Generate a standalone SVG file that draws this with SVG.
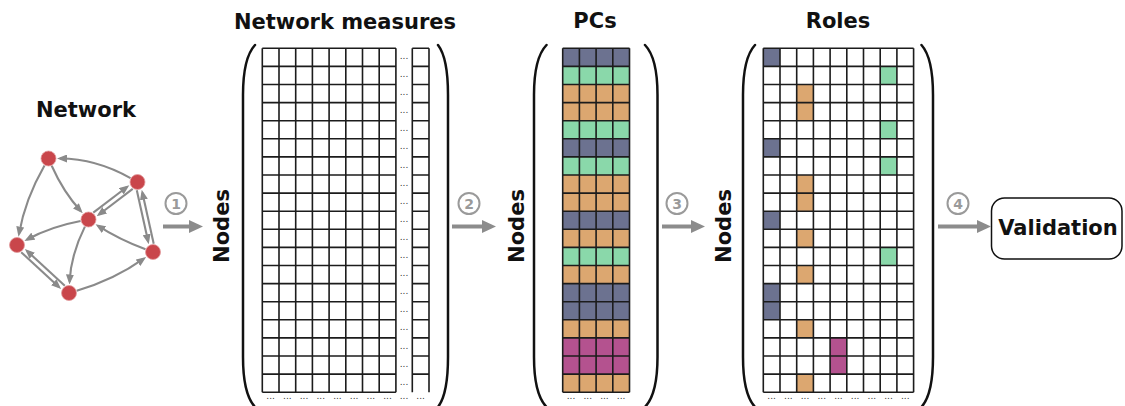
<svg xmlns="http://www.w3.org/2000/svg" width="1125" height="406" viewBox="0 0 1125 406">
<style>
.t{font-family:"DejaVu Sans","Liberation Sans",sans-serif;font-weight:bold;font-size:21px;fill:#111;text-anchor:middle}
.grid{fill:none;stroke:#1c1c1c;stroke-width:1.6}
.dots{font-family:"DejaVu Sans","Liberation Sans",sans-serif;font-size:9px;fill:#333;text-anchor:middle}
.edge{fill:none;stroke:#8a8a8a;stroke-width:2.1;marker-end:url(#ah)}
.node{fill:#c9464b;stroke:#e29a9d;stroke-width:0.8}
.paren{fill:none;stroke:#111;stroke-width:2.5;stroke-linecap:round}
.big{stroke:#8c8c8c;stroke-width:4;marker-end:url(#bh)}
.numc{fill:none;stroke:#9a9a9a;stroke-width:2}
.numt{font-family:"DejaVu Sans","Liberation Sans",sans-serif;font-weight:bold;font-size:14px;fill:#9a9a9a;text-anchor:middle}
.gy{fill:#6c7290}.gr{fill:#8ad8aa}.or{fill:#dca770}.mg{fill:#b4528f}
</style>
<defs>
<marker id="ah" markerUnits="userSpaceOnUse" markerWidth="10" markerHeight="8" refX="7" refY="4" orient="auto"><path d="M0,0L10,4L0,8z" fill="#8a8a8a"/></marker>
<marker id="bh" markerUnits="userSpaceOnUse" markerWidth="14" markerHeight="13" refX="1" refY="6.5" orient="auto"><path d="M0,0L14,6.5L0,13z" fill="#8c8c8c"/></marker>
</defs>
<rect width="1125" height="406" fill="#fff"/>

<g id="network">
<text class="t" x="86" y="117">Network</text>
<g id="net-edges">
<path class="edge" d="M130.5,178.1Q96.1,158.6 60,158.5"/>
<path class="edge" d="M44.5,165.4Q25.2,199 19,233.7"/>
<path class="edge" d="M51.7,165.8Q63.5,192.3 80.7,211"/>
<path class="edge" d="M93.3,212.6L126.9,187"/>
<path class="edge" d="M132.7,188.9L99.1,214.5"/>
<path class="edge" d="M153.7,243.7L142.4,192.7"/>
<path class="edge" d="M136.8,190.3L148.1,241.3"/>
<path class="edge" d="M145.5,249.2Q119,239.3 98.1,225.8"/>
<path class="edge" d="M80.6,221Q50.7,226.6 27.1,239.5"/>
<path class="edge" d="M84.9,226.6Q71,254.2 69.6,281.5"/>
<path class="edge" d="M21.2,252.2L58.9,287"/>
<path class="edge" d="M64.8,285.8L27.1,251"/>
<path class="edge" d="M76.7,290.8Q114.5,279.7 143.7,258.7"/>
</g>
<g id="n-a"><circle class="node" cx="48.5" cy="158.5" r="7.5"/></g>
<g id="n-b"><circle class="node" cx="137.5" cy="182" r="7.5"/></g>
<g id="n-c"><circle class="node" cx="88.5" cy="219.5" r="7.5"/></g>
<g id="n-d"><circle class="node" cx="17" cy="245" r="7.5"/></g>
<g id="n-e"><circle class="node" cx="153" cy="252" r="7.5"/></g>
<g id="n-f"><circle class="node" cx="69" cy="293" r="7.5"/></g>
</g>

<g id="measures">
<text class="t" x="345" y="29">Network measures</text>
<text class="t" transform="translate(228.5,226) rotate(-90)">Nodes</text>
<path class="paren" d="M255,45Q243,58 243,95L243,357Q243,394 255,407"/>
<path class="paren" d="M438,45Q448,58 448,95L448,357Q448,394 438,407"/>
<rect x="262.3" y="48.3" width="133.6" height="343.9" fill="#fff"/>
<rect x="412.3" y="48.3" width="16.7" height="343.9" fill="#fff"/>
<path class="grid" d="M262.3,48.3h133.6m-133.6,18.1h133.6m-133.6,18.1h133.6m-133.6,18.1h133.6m-133.6,18.1h133.6m-133.6,18.1h133.6m-133.6,18.1h133.6m-133.6,18.1h133.6m-133.6,18.1h133.6m-133.6,18.1h133.6m-133.6,18.1h133.6m-133.6,18.1h133.6m-133.6,18.1h133.6m-133.6,18.1h133.6m-133.6,18.1h133.6m-133.6,18.1h133.6m-133.6,18.1h133.6m-133.6,18.1h133.6m-133.6,18.1h133.6m-133.6,18.1h133.6
M262.3,48.3v343.9m16.7,-343.9v343.9m16.7,-343.9v343.9m16.7,-343.9v343.9m16.7,-343.9v343.9m16.7,-343.9v343.9m16.7,-343.9v343.9m16.7,-343.9v343.9m16.7,-343.9v343.9
M412.3,48.3h16.7m-16.7,18.1h16.7m-16.7,18.1h16.7m-16.7,18.1h16.7m-16.7,18.1h16.7m-16.7,18.1h16.7m-16.7,18.1h16.7m-16.7,18.1h16.7m-16.7,18.1h16.7m-16.7,18.1h16.7m-16.7,18.1h16.7m-16.7,18.1h16.7m-16.7,18.1h16.7m-16.7,18.1h16.7m-16.7,18.1h16.7m-16.7,18.1h16.7m-16.7,18.1h16.7m-16.7,18.1h16.7m-16.7,18.1h16.7
M412.3,48.3v343.9m16.7,-343.9v343.9"/>
<text class="dots"><tspan x="404" y="58.9">...</tspan><tspan x="404" y="77">...</tspan><tspan x="404" y="95.1">...</tspan><tspan x="404" y="113.2">...</tspan><tspan x="404" y="131.3">...</tspan><tspan x="404" y="149.4">...</tspan><tspan x="404" y="167.5">...</tspan><tspan x="404" y="185.6">...</tspan><tspan x="404" y="203.7">...</tspan><tspan x="404" y="221.8">...</tspan><tspan x="404" y="239.9">...</tspan><tspan x="404" y="258">...</tspan><tspan x="404" y="276.1">...</tspan><tspan x="404" y="294.2">...</tspan><tspan x="404" y="312.3">...</tspan><tspan x="404" y="330.4">...</tspan><tspan x="404" y="348.5">...</tspan><tspan x="404" y="366.6">...</tspan><tspan x="404" y="384.7">...</tspan></text>
<text class="dots" y="399"><tspan x="270.65">...</tspan><tspan x="287.35">...</tspan><tspan x="304.05">...</tspan><tspan x="320.75">...</tspan><tspan x="337.45">...</tspan><tspan x="354.15">...</tspan><tspan x="370.85">...</tspan><tspan x="387.55">...</tspan><tspan x="404">...</tspan><tspan x="420.65">...</tspan></text>
</g>

<g id="pcs">
<text class="t" x="595" y="28">PCs</text>
<text class="t" transform="translate(524,226) rotate(-90)">Nodes</text>
<path class="paren" d="M546.5,45Q534,58 534,95L534,357Q534,394 546.5,407"/>
<path class="paren" d="M645,45Q657.5,58 657.5,95L657.5,357Q657.5,394 645,407"/>
<rect class="gy" x="562.7" y="48.3" width="66.8" height="18.1"/>
<rect class="gr" x="562.7" y="66.4" width="66.8" height="18.1"/>
<rect class="or" x="562.7" y="84.5" width="66.8" height="36.2"/>
<rect class="gr" x="562.7" y="120.7" width="66.8" height="18.1"/>
<rect class="gy" x="562.7" y="138.8" width="66.8" height="18.1"/>
<rect class="gr" x="562.7" y="156.9" width="66.8" height="18.1"/>
<rect class="or" x="562.7" y="175" width="66.8" height="36.2"/>
<rect class="gy" x="562.7" y="211.2" width="66.8" height="18.1"/>
<rect class="or" x="562.7" y="229.3" width="66.8" height="18.1"/>
<rect class="gr" x="562.7" y="247.4" width="66.8" height="18.1"/>
<rect class="or" x="562.7" y="265.5" width="66.8" height="18.1"/>
<rect class="gy" x="562.7" y="283.6" width="66.8" height="36.2"/>
<rect class="or" x="562.7" y="319.8" width="66.8" height="18.1"/>
<rect class="mg" x="562.7" y="337.9" width="66.8" height="36.2"/>
<rect class="or" x="562.7" y="374.1" width="66.8" height="18.1"/>
<path class="grid" d="M562.7,48.3h66.8m-66.8,18.1h66.8m-66.8,18.1h66.8m-66.8,18.1h66.8m-66.8,18.1h66.8m-66.8,18.1h66.8m-66.8,18.1h66.8m-66.8,18.1h66.8m-66.8,18.1h66.8m-66.8,18.1h66.8m-66.8,18.1h66.8m-66.8,18.1h66.8m-66.8,18.1h66.8m-66.8,18.1h66.8m-66.8,18.1h66.8m-66.8,18.1h66.8m-66.8,18.1h66.8m-66.8,18.1h66.8m-66.8,18.1h66.8m-66.8,18.1h66.8
M562.7,48.3v343.9m16.7,-343.9v343.9m16.7,-343.9v343.9m16.7,-343.9v343.9m16.7,-343.9v343.9"/>
<text class="dots" y="399"><tspan x="571.05">...</tspan><tspan x="587.75">...</tspan><tspan x="604.45">...</tspan><tspan x="621.15">...</tspan></text>
</g>

<g id="roles">
<text class="t" x="838" y="28">Roles</text>
<text class="t" transform="translate(731,226) rotate(-90)">Nodes</text>
<path class="paren" d="M755,45Q743,58 743,95L743,357Q743,394 755,407"/>
<path class="paren" d="M921.5,45Q933,58 933,95L933,357Q933,394 921.5,407"/>
<rect x="763.3" y="48.3" width="150.3" height="343.9" fill="#fff"/>
<rect class="gy" x="763.3" y="48.3" width="16.7" height="18.1"/>
<rect class="gy" x="763.3" y="138.8" width="16.7" height="18.1"/>
<rect class="gy" x="763.3" y="211.2" width="16.7" height="18.1"/>
<rect class="gy" x="763.3" y="283.6" width="16.7" height="36.2"/>
<rect class="gr" x="880.2" y="66.4" width="16.7" height="18.1"/>
<rect class="gr" x="880.2" y="120.7" width="16.7" height="18.1"/>
<rect class="gr" x="880.2" y="156.9" width="16.7" height="18.1"/>
<rect class="gr" x="880.2" y="247.4" width="16.7" height="18.1"/>
<rect class="or" x="796.7" y="84.5" width="16.7" height="36.2"/>
<rect class="or" x="796.7" y="175" width="16.7" height="36.2"/>
<rect class="or" x="796.7" y="229.3" width="16.7" height="18.1"/>
<rect class="or" x="796.7" y="265.5" width="16.7" height="18.1"/>
<rect class="or" x="796.7" y="319.8" width="16.7" height="18.1"/>
<rect class="or" x="796.7" y="374.1" width="16.7" height="18.1"/>
<rect class="mg" x="830.1" y="337.9" width="16.7" height="36.2"/>
<path class="grid" d="M763.3,48.3h150.3m-150.3,18.1h150.3m-150.3,18.1h150.3m-150.3,18.1h150.3m-150.3,18.1h150.3m-150.3,18.1h150.3m-150.3,18.1h150.3m-150.3,18.1h150.3m-150.3,18.1h150.3m-150.3,18.1h150.3m-150.3,18.1h150.3m-150.3,18.1h150.3m-150.3,18.1h150.3m-150.3,18.1h150.3m-150.3,18.1h150.3m-150.3,18.1h150.3m-150.3,18.1h150.3m-150.3,18.1h150.3m-150.3,18.1h150.3m-150.3,18.1h150.3
M763.3,48.3v343.9m16.7,-343.9v343.9m16.7,-343.9v343.9m16.7,-343.9v343.9m16.7,-343.9v343.9m16.7,-343.9v343.9m16.7,-343.9v343.9m16.7,-343.9v343.9m16.7,-343.9v343.9m16.7,-343.9v343.9"/>
<text class="dots" y="399"><tspan x="771.65">...</tspan><tspan x="788.35">...</tspan><tspan x="805.05">...</tspan><tspan x="821.75">...</tspan><tspan x="838.45">...</tspan><tspan x="855.15">...</tspan><tspan x="871.85">...</tspan><tspan x="888.55">...</tspan><tspan x="905.25">...</tspan></text>
</g>

<g id="validation">
<rect x="991.5" y="198" width="130.5" height="61" rx="13" fill="#fff" stroke="#111" stroke-width="1.5"/>
<text class="t" x="1058" y="235">Validation</text>
</g>

<g id="connectors">
<line class="big" x1="163" y1="226.5" x2="190" y2="226.5"/>
<line class="big" x1="452" y1="226.5" x2="483" y2="226.5"/>
<line class="big" x1="662" y1="226.5" x2="692" y2="226.5"/>
<line class="big" x1="938" y1="226.5" x2="978" y2="226.5"/>
<circle class="numc" cx="176" cy="203.5" r="10.5"/><text class="numt" x="176" y="208.5">1</text>
<circle class="numc" cx="469" cy="203.5" r="10.5"/><text class="numt" x="469" y="208.5">2</text>
<circle class="numc" cx="677" cy="203.5" r="10.5"/><text class="numt" x="677" y="208.5">3</text>
<circle class="numc" cx="958" cy="203.5" r="10.5"/><text class="numt" x="958" y="208.5">4</text>
</g>
</svg>
